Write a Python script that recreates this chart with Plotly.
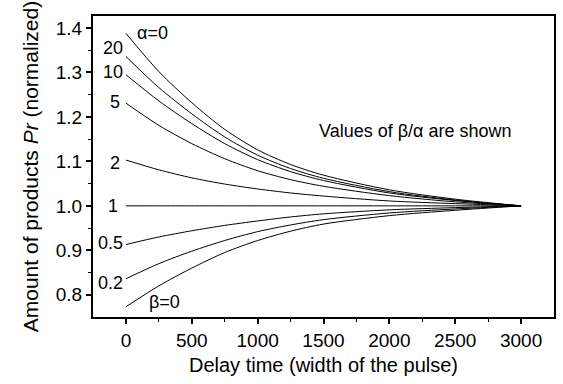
import plotly.graph_objects as go

# Delay time (width of the pulse)
t = [0, 250, 500, 750, 1000, 1250, 1500, 2000, 2500, 3000]

# Curves labelled by beta/alpha
series_labels = ["α=0", "20", "10", "5", "2", "1", "0.5", "0.2", "β=0"]
pr_alpha0 = [1.388, 1.302, 1.232, 1.172, 1.126, 1.093, 1.069, 1.036, 1.015, 1.0]
pr_20 = [1.336, 1.266, 1.207, 1.155, 1.114, 1.084, 1.062, 1.032, 1.013, 1.0]
pr_10 = [1.295, 1.236, 1.185, 1.140, 1.104, 1.077, 1.057, 1.029, 1.012, 1.0]
pr_5 = [1.231, 1.181, 1.140, 1.106, 1.079, 1.059, 1.044, 1.023, 1.009, 1.0]
pr_2 = [1.103, 1.081, 1.063, 1.049, 1.038, 1.029, 1.022, 1.011, 1.005, 1.0]
pr_1 = [1.0, 1.0, 1.0, 1.0, 1.0, 1.0, 1.0, 1.0, 1.0, 1.0]
pr_05 = [0.913, 0.930, 0.944, 0.956, 0.966, 0.975, 0.982, 0.991, 0.996, 1.0]
pr_02 = [0.836, 0.870, 0.898, 0.922, 0.942, 0.957, 0.969, 0.984, 0.993, 1.0]
pr_beta0 = [0.773, 0.820, 0.860, 0.895, 0.922, 0.943, 0.959, 0.978, 0.990, 1.0]

all_series = [pr_alpha0, pr_20, pr_10, pr_5, pr_2, pr_1, pr_05, pr_02, pr_beta0]

# label anchor positions (data coords)
label_x = [200, -100, -100, -85, -85, -100, -115, -115, 290]
label_y = [1.389, 1.355, 1.301, 1.234, 1.097, 1.0, 0.917, 0.827, 0.784]

FONT = "Liberation Sans, Arial, Helvetica, sans-serif"

fig = go.Figure()
for ys in all_series:
    fig.add_trace(go.Scatter(x=t, y=ys, mode="lines",
                             line=dict(color="black", width=1, shape="spline", smoothing=0.8),
                             showlegend=False, hoverinfo="skip"))

for lab, lx, ly in zip(series_labels, label_x, label_y):
    fig.add_annotation(x=lx, y=ly, text=lab, showarrow=False,
                       font=dict(family=FONT, size=18, color="black"),
                       xanchor="center", yanchor="middle")

fig.add_annotation(x=2200, y=1.169, text="Values of β/α are shown", showarrow=False,
                   font=dict(family=FONT, size=18, color="black"),
                   xanchor="center", yanchor="middle")

fig.update_layout(
    width=563, height=384,
    margin=dict(l=93, r=7, t=16, b=67),
    plot_bgcolor="white", paper_bgcolor="white",
    font=dict(family=FONT, size=18, color="black"),
)
fig.update_xaxes(
    range=[-250, 3250], tickmode="array", tickvals=[0, 500, 1000, 1500, 2000, 2500, 3000],
    ticks="outside", ticklen=5, tickwidth=1.5, tickcolor="black",
    minor=dict(tickvals=[250, 750, 1250, 1750, 2250, 2750], ticks="outside", ticklen=3, tickwidth=1.2, tickcolor="black"),
    showline=True, linecolor="black", linewidth=2, mirror=True, showgrid=False, zeroline=False,
    tickfont=dict(size=19),
    title=dict(text="Delay time (width of the pulse)", font=dict(size=20), standoff=8),
)
fig.update_yaxes(
    range=[0.75, 1.427], tickmode="array", tickvals=[0.8, 0.9, 1.0, 1.1, 1.2, 1.3, 1.4],
    ticktext=["0.8", "0.9", "1.0", "1.1", "1.2", "1.3", "1.4"],
    ticks="outside", ticklen=5, tickwidth=1.5, tickcolor="black",
    minor=dict(tickvals=[0.85, 0.95, 1.05, 1.15, 1.25, 1.35], ticks="outside", ticklen=3, tickwidth=1.2, tickcolor="black"),
    showline=True, linecolor="black", linewidth=2, mirror=True, showgrid=False, zeroline=False,
    tickfont=dict(size=19),
    title=dict(text="Amount of products <i>Pr</i> (normalized)", font=dict(size=21), standoff=11),
)

fig.write_html("out.html")
